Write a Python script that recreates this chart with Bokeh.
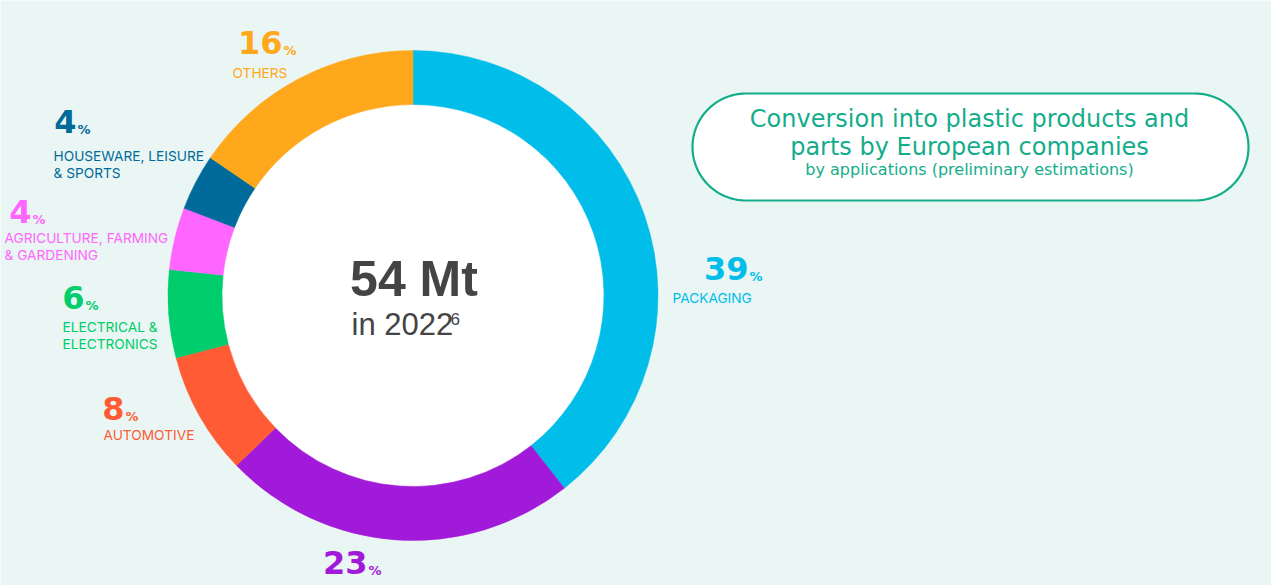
import numpy as np
from bokeh.plotting import figure
from bokeh.models import ColumnDataSource, Range1d
from bokeh.core.properties import value
from bokeh.embed import file_html
from bokeh.resources import INLINE

# ---- data ----
categories = ["PACKAGING", "BUILDING & CONSTRUCTION", "AUTOMOTIVE", "ELECTRICAL & ELECTRONICS",
              "AGRICULTURE, FARMING & GARDENING", "HOUSEWARE, LEISURE & SPORTS", "OTHERS"]
# shares as read from the ring (sum 100) and the rounded values printed on the chart
shares = [39.4, 23.4, 8.1, 5.8, 4.1, 3.7, 15.5]
share_labels = ["39", "23", "8", "6", "4", "4", "16"]
colors = ["#00BDE9", "#A21AD9", "#FF5C35", "#00CD6B", "#FF66FF", "#006B9A", "#FFA81C"]
label_lines = [["PACKAGING"], ["BUILDING & CONSTRUCTION"], ["AUTOMOTIVE"], ["ELECTRICAL &", "ELECTRONICS"],
               ["AGRICULTURE, FARMING", "& GARDENING"], ["HOUSEWARE, LEISURE", "& SPORTS"], ["OTHERS"]]
total_text = "54 Mt"
year_text = "in 2022"
footnote = "6"
title_lines = ["Conversion into plastic products and", "parts by European companies"]
subtitle = "by applications (preliminary estimations)"

# ---- layout (pixel coordinates from top-left; data y = H - pixel y) ----
W, H = 1271, 585
BG = "#EAF6F3"
SHIFT = 0.4  # svg alphabetic-baseline correction (in em)

def Y(py):
    return H - py

def TY(baseline, size):
    return Y(baseline - SHIFT * size)

cx, cy = 412.5, Y(295)
r_out, r_in = 245, 191

# label anchors: (number left x, number baseline, pct x, text x, first text baseline)
label_pos = [
    (704, 281, 749, 672, 303),
    (324, 575, 368, 324, 597),
    (103, 421, 125, 103, 440),
    (62, 310, 85, 62, 332),
    (5, 224, 32, 4, 243),
    (53, 134, 77, 53, 161),
    (235, 55, 283, 232, 78),
]
NUM_SIZE = 32
PCT_SIZE = 13
LBL_SIZE = 13.7
text_colors = list(colors)
text_colors[1] = "#C58BE6"

p = figure(width=W, height=H, output_backend="svg", toolbar_location=None,
           x_range=Range1d(0, W), y_range=Range1d(0, H),
           min_border=0, background_fill_color=BG, border_fill_color=BG,
           outline_line_color=None)
p.axis.visible = False
p.grid.visible = False

# donut
frac = np.array(shares, dtype=float) / sum(shares)
cum = np.concatenate([[0], np.cumsum(frac)])
start = np.pi / 2 - cum[:-1] * 2 * np.pi
end = np.pi / 2 - cum[1:] * 2 * np.pi
src = ColumnDataSource(dict(start=start, end=end, color=colors, cat=categories))
p.circle(x=[cx], y=[cy], radius=r_in, fill_color="white", line_color=None)
p.annular_wedge(x=cx, y=cy, inner_radius=r_in, outer_radius=r_out, start_angle="start",
                end_angle="end", direction="clock", fill_color="color", line_color="color",
                line_width=0.5, source=src)

# center texts
p.text(x=[cx + 1], y=[TY(298, 50)], text=[total_text], text_align="center", text_baseline="alphabetic",
       text_font=value("Liberation Sans"), text_font_style="bold", text_font_size="50px",
       text_color="#444444")
p.text(x=[351], y=[TY(336, 31)], text=[year_text], text_align="left", text_baseline="alphabetic",
       text_font=value("Liberation Sans"), text_font_size="31px", text_color="#444444")
p.text(x=[450], y=[TY(325, 17)], text=[footnote], text_align="left", text_baseline="alphabetic",
       text_font=value("Liberation Sans"), text_font_size="17px", text_color="#444444")

# category labels
for i, (nx, nb, px_, tx, tb) in enumerate(label_pos):
    p.text(x=[px_ - 1], y=[TY(nb, NUM_SIZE)], text=[share_labels[i]], text_align="right",
           text_baseline="alphabetic", text_font=value("DejaVu Sans"), text_font_style="bold",
           text_font_size=f"{NUM_SIZE}px", text_color=colors[i])
    p.text(x=[px_], y=[TY(nb, PCT_SIZE)], text=["%"], text_align="left", text_baseline="alphabetic",
           text_font=value("DejaVu Sans"), text_font_style="bold", text_font_size=f"{PCT_SIZE}px",
           text_color=colors[i])
    if tb < H - 4:
        for j, line in enumerate(label_lines[i]):
            p.text(x=[tx], y=[TY(tb + 17 * j, LBL_SIZE)], text=[line], text_align="left",
                   text_baseline="alphabetic", text_font=value("Inter"),
                   text_font_size=f"{LBL_SIZE}px", text_color=text_colors[i])

# title box (stadium shape)
GREEN = "#14AD8B"
bx0, bx1, by0, by1 = 692, 1248, 93, 200
rr = (by1 - by0) / 2
ymid = Y((by0 + by1) / 2)
t1 = np.linspace(np.pi / 2, -np.pi / 2, 60)
t2 = np.linspace(-np.pi / 2, -3 * np.pi / 2, 60)
xs = np.concatenate([bx1 - rr + rr * np.cos(t1), bx0 + rr + rr * np.cos(t2)])
ys = np.concatenate([ymid + rr * np.sin(t1), ymid + rr * np.sin(t2)])
p.patch(xs, ys, fill_color="white", line_color=GREEN, line_width=2.2)

bxc = 969
p.text(x=[bxc], y=[TY(128, 24)], text=[title_lines[0]], text_align="center", text_baseline="alphabetic",
       text_font=value("DejaVu Sans"), text_font_size="24px", text_color=GREEN)
p.text(x=[bxc], y=[TY(156, 24)], text=[title_lines[1]], text_align="center", text_baseline="alphabetic",
       text_font=value("DejaVu Sans"), text_font_size="24px", text_color=GREEN)
p.text(x=[bxc], y=[TY(175, 16)], text=[subtitle], text_align="center", text_baseline="alphabetic",
       text_font=value("DejaVu Sans"), text_font_size="16px", text_color=GREEN)

open("out.html", "w").write(file_html(p, INLINE))
